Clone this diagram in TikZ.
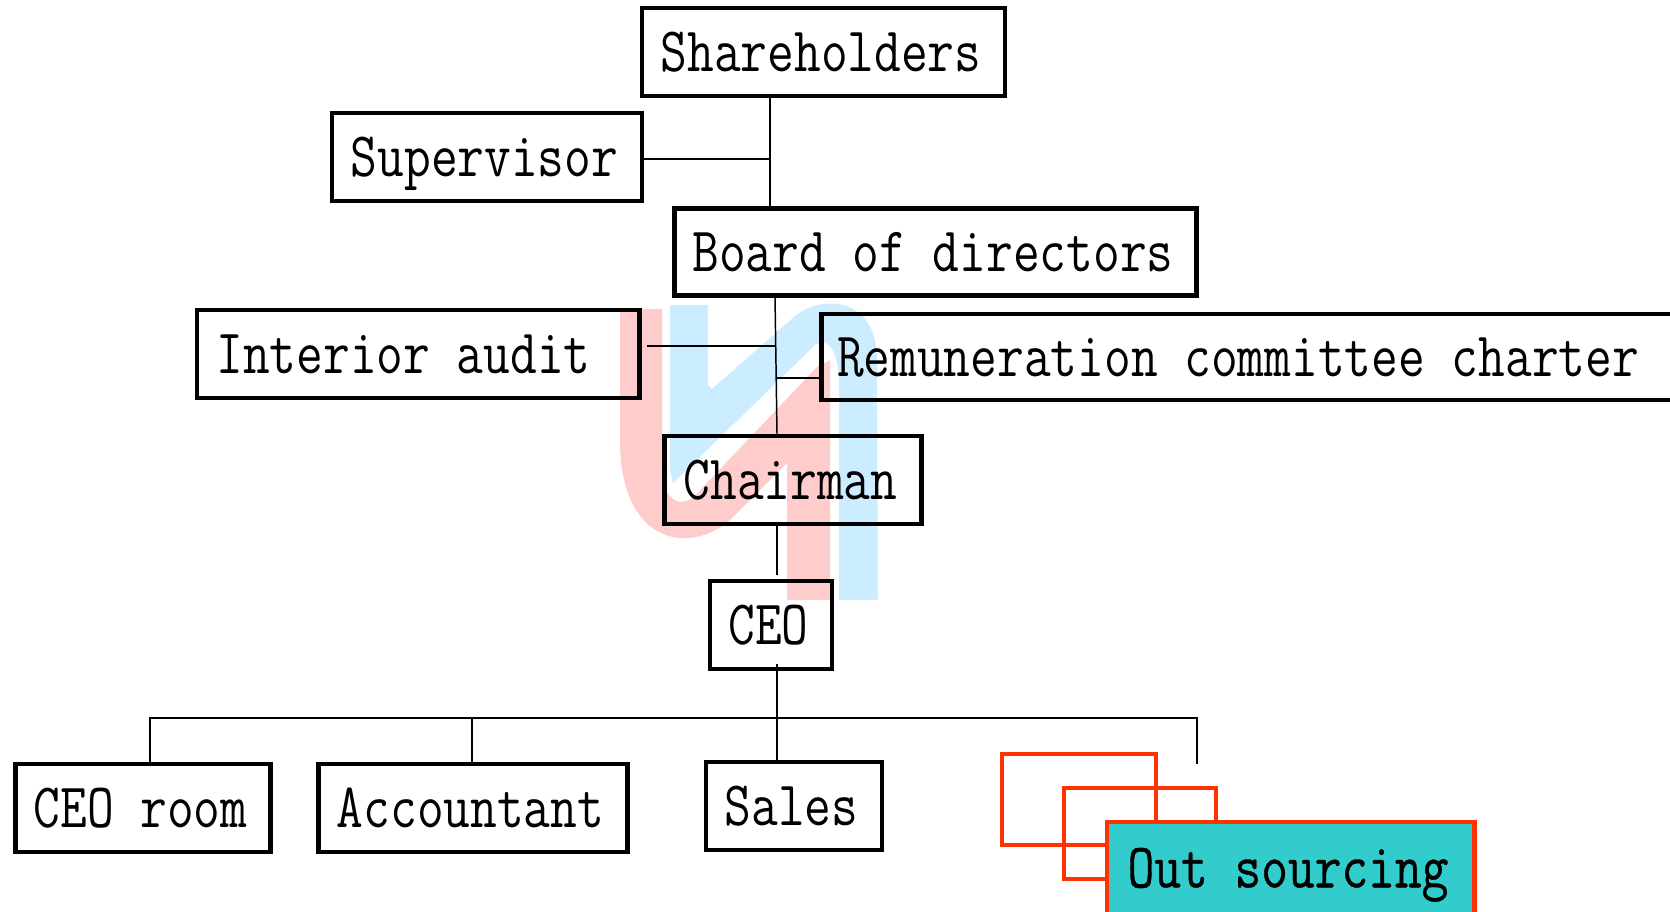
\documentclass[tikz,border=0pt]{standalone}
\usepackage{fontspec}
\usepackage{xcolor}
\newfontfamily\boxfont[FakeStretch=0.82]{Latin Modern Mono}
\newfontfamily\boldboxfont[FakeStretch=0.82,FakeBold=0.6]{Latin Modern Mono}
\definecolor{logopink}{HTML}{FFCCCC}
\definecolor{logoblue}{HTML}{CCECFF}
\definecolor{outred}{HTML}{FF3300}
\definecolor{outteal}{HTML}{33CCCC}
\tikzset{
    post/.style={draw=black, line width=1.35pt, inner sep=0pt, text height=0.386cm, text depth=0cm, font=\boxfont\fontsize{18}{20}\selectfont, execute at begin node={\hspace*{-0.05cm}}},
    outpost/.style={draw=outred, line width=1.35pt, inner sep=0pt, text height=0.386cm, text depth=0cm, font=\boldboxfont\fontsize{18}{20}\selectfont, execute at begin node={\hspace*{-0.05cm}}},
    wire/.style={draw=black, line width=0.42pt}
}

\begin{document}
\begin{tikzpicture}[x=0.01cm, y=-0.01cm]
            \clip (0,0) rectangle (1670,911);
            \fill[white] (0,0) rectangle (1670,911);
            % 水印
            \fill[logoblue] (670,305) -- (708,305) -- (708,385) -- (712,389) -- (795,316)
                .. controls (820,295) and (877,295) .. (877,360) -- (878,600) -- (839,600) -- (839,385)
                .. controls (839,355) and (830,335) .. (815,345) -- (673,483) -- (670,470) -- cycle;
            \fill[logopink] (620,309) -- (662,309) -- (662,470)
                .. controls (664,505) and (685,512) .. (703,487) -- (817,367) -- (830,360) -- (830,600)
                -- (787,600) -- (787,463) -- (730,520) .. controls (690,555) and (620,545) .. (620,440) -- cycle;
            % 方框
            \node[post, minimum width=3.63cm, minimum height=0.88cm] (shareholders) at (823.5,52) {Shareholders};
            \node[post, minimum width=3.1cm, minimum height=0.88cm] (supervisor) at (487,157) {Supervisor};
            \node[post, minimum width=5.22cm, minimum height=0.87cm] (board) at (935.5,252) {Board of directors};
            \node[post, minimum width=4.42cm, minimum height=0.88cm] (audit) at (418,354) {\hspace*{-0.24cm}Interior audit};
            \node[post, minimum width=9.05cm, minimum height=0.86cm] (remuneration) at (1274,357) {\hspace*{-0.67cm}Remuneration committee charter};
            \node[post, minimum width=2.57cm, minimum height=0.88cm] (chairman) at (793,480) {Chairman};
            \node[post, minimum width=1.22cm, minimum height=0.88cm] (ceo) at (771,625) {CEO};
            \node[post, minimum width=2.55cm, minimum height=0.88cm] (ceoroom) at (143,808) {CEO room};
            \node[post, minimum width=3.09cm, minimum height=0.88cm] (accountant) at (473,808) {Accountant};
            \node[post, minimum width=1.76cm, minimum height=0.88cm] (sales) at (794,806) {Sales};
            \node[outpost, minimum width=1.54cm, minimum height=0.91cm] (outa) at (1079,799.5) {};
            \node[outpost, minimum width=1.52cm, minimum height=0.91cm] (outb) at (1140,833.5) {};
            \node[outpost, fill=outteal, minimum width=3.67cm, minimum height=0.92cm] (outsourcing) at (1290.5,868) {Out sourcing};
            % 连线
            \coordinate (trunka) at (770,159);
            \coordinate (trunkb) at (775,296);
            \coordinate (trunkc) at (777,434);
            \coordinate (auditend) at (647,346);
            \coordinate (auditjoin) at (775,346);
            \coordinate (remjoin) at (776,378);
            \coordinate (ceoend) at (777,664);
            \coordinate (ceotop) at (777,575);
            \coordinate (busleft) at (150,718);
            \coordinate (busright) at (1197,718);
            \coordinate (busmid) at (472,718);
            \coordinate (outend) at (1197,764);
            \draw[wire] (shareholders.south -| trunka) -- (board.north -| trunka);
            \draw[wire] (supervisor.east |- trunka) -- (trunka);
            \draw[wire] (trunkb) -- (trunkc);
            \draw[wire] (auditend) -- (auditjoin);
            \draw[wire] (remjoin) -- (remuneration.west |- remjoin);
            \draw[wire] (chairman.south -| ceotop) -- (ceotop);
            \draw[wire] (ceoend) -- (sales.north -| ceoend);
            \draw[wire] (ceoroom.north -| busleft) -- (busleft) -- (busright) -- (outend);
            \draw[wire] (busmid) -- (accountant.north -| busmid);
        \end{tikzpicture}
\end{document}
